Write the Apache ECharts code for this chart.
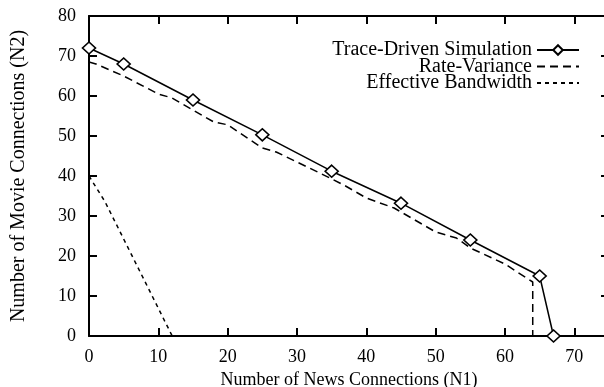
<!DOCTYPE html>
<html>
<head>
<meta charset="utf-8">
<script src="https://cdn.jsdelivr.net/npm/echarts@6/dist/echarts.min.js"></script>
<style>
html,body{margin:0;padding:0;background:#fff;}
#chart{width:604px;height:387px;}
</style>
</head>
<body>
<div id="chart"></div>
<script>
// ---- data ----
var seriesNames = ['Trace-Driven Simulation', 'Rate-Variance', 'Effective Bandwidth'];
var traceX = [0, 5, 15, 25, 35, 45, 55, 65, 67];
var traceY = [72, 68, 59, 50.3, 41.2, 33.2, 24, 15, 0];
var rateX = [0, 1, 5, 10, 12, 15, 18, 20, 25, 27, 30, 35, 37, 40, 44, 45, 50, 53, 55, 60, 64, 64];
var rateY = [68.5, 68, 65, 60.5, 59.5, 56.5, 53.5, 52.8, 47, 46, 43.5, 39.3, 37.5, 34.5, 32, 31, 26, 24.5, 22, 18, 13.5, 0];
var effX = [0, 2.3, 12];
var effY = [40, 33.6, 0];
var xTicks = [0, 10, 20, 30, 40, 50, 60, 70];
var yTicks = [0, 10, 20, 30, 40, 50, 60, 70, 80];

function pairs(xs, ys) { return xs.map(function (x, i) { return [x, ys[i]]; }); }

var FONT = "'Liberation Serif', 'Times New Roman', serif";
var txt = { fontFamily: FONT, fontSize: 18, color: '#000' };
var txtBig = { fontFamily: FONT, fontSize: 20, color: '#000' };

var chart = echarts.init(document.getElementById('chart'), null, { renderer: 'canvas' });

function axisCommon(extra) {
  return Object.assign({
    type: 'value',
    splitLine: { show: false },
    axisLine: { show: true, onZero: false, lineStyle: { color: '#000', width: 2 } },
    axisTick: { show: true, inside: true, length: 8, lineStyle: { color: '#000', width: 2 } }
  }, extra);
}

var option = {
  animation: false,
  backgroundColor: '#fff',
  grid: { left: 89, right: -5, top: 16, bottom: 51, containLabel: false, outerBoundsMode: 'none' },
  xAxis: [
    axisCommon({
      position: 'bottom', min: 0, max: 75, interval: 10,
      axisLabel: Object.assign({ margin: 12, showMaxLabel: false,
        formatter: function (v) { return xTicks.indexOf(v) >= 0 ? String(v) : ''; } }, txt),
      name: 'Number of News Connections (N1)', nameLocation: 'middle', nameGap: 35,
      nameTextStyle: txt
    }),
    axisCommon({
      position: 'top', min: 0, max: 75, interval: 10,
      axisLabel: { show: false }
    })
  ],
  yAxis: [
    axisCommon({
      position: 'left', min: 0, max: 80, interval: 10,
      axisLabel: Object.assign({ margin: 13,
        formatter: function (v) { return yTicks.indexOf(v) >= 0 ? String(v) : ''; } }, txt),
      name: 'Number of Movie Connections (N2)', nameLocation: 'middle', nameGap: 60,
      nameTextStyle: txtBig
    }),
    axisCommon({
      position: 'right', min: 0, max: 80, interval: 10,
      axisLabel: { show: false }
    })
  ],
  legend: [0, 1, 2].map(function (i) {
    var item = { name: seriesNames[i] };
    if (i > 0) item.itemStyle = { opacity: 0 };
    return {
      data: [item],
      right: 24, top: 40 + i * 16.5,
      align: 'right', orient: 'vertical',
      itemWidth: 42, itemHeight: 12, itemGap: 0,
      padding: 0,
      textStyle: txtBig,
      selectedMode: false
    };
  }),
  series: [
    {
      name: seriesNames[0], type: 'line', xAxisIndex: 0, yAxisIndex: 0,
      data: pairs(traceX, traceY),
      symbol: 'diamond', symbolSize: [13, 12], showSymbol: true, clip: false,
      itemStyle: { color: '#fff', borderColor: '#000', borderWidth: 1.6 },
      lineStyle: { color: '#000', width: 1.5 },
      z: 5
    },
    {
      name: seriesNames[1], type: 'line', xAxisIndex: 0, yAxisIndex: 0,
      data: pairs(rateX, rateY),
      symbol: 'none', clip: false,
      itemStyle: { color: '#000' },
      lineStyle: { color: '#000', width: 1.5, type: [8, 5] },
      z: 4
    },
    {
      name: seriesNames[2], type: 'line', xAxisIndex: 0, yAxisIndex: 0,
      data: pairs(effX, effY),
      symbol: 'none', clip: false,
      itemStyle: { color: '#000' },
      lineStyle: { color: '#000', width: 1.5, type: [4, 4] },
      z: 4
    }
  ]
};
chart.setOption(option);
</script>
</body>
</html>
